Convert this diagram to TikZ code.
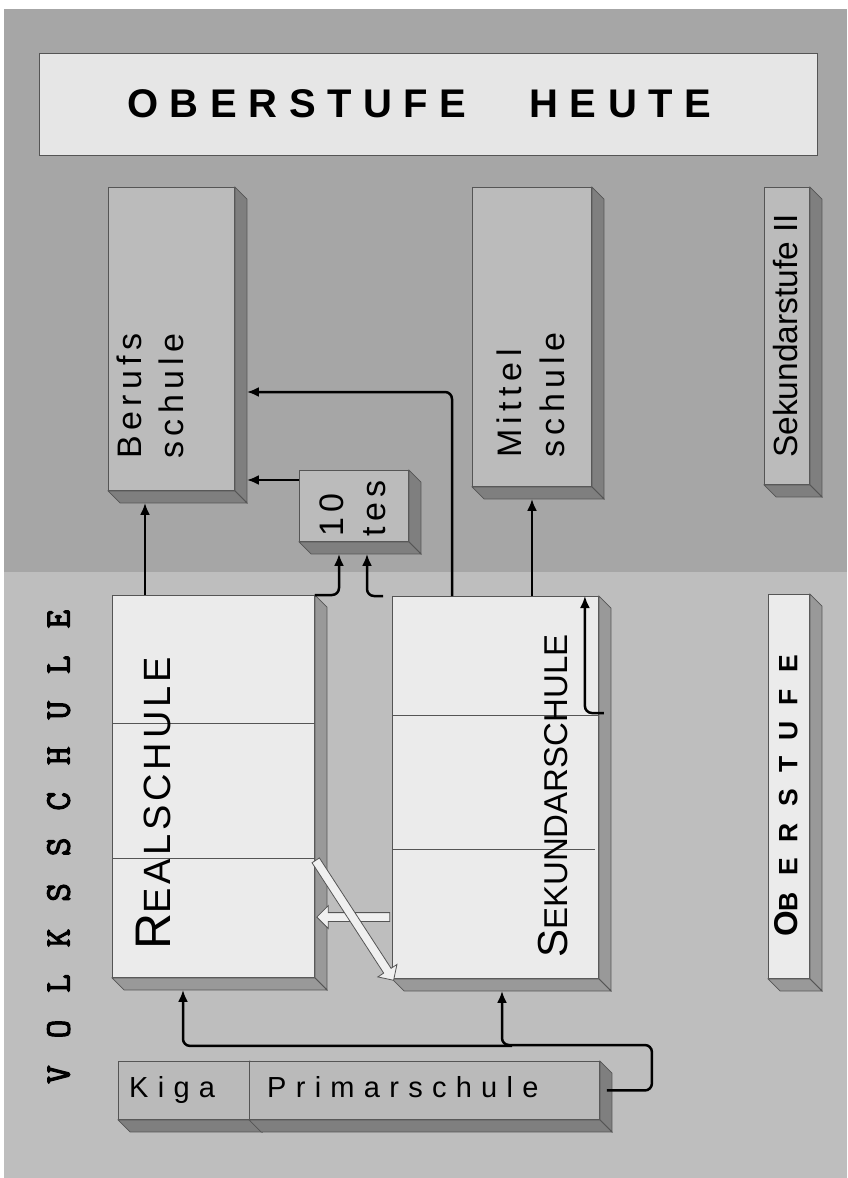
\documentclass[tikz,border=0pt]{standalone}
\usepackage{fontspec}
\setmainfont{Liberation Sans}
\newfontfamily\sperrfont[LetterSpace=16]{Liberation Sans}
\newfontfamily\weitfont[LetterSpace=32]{Liberation Sans}
\newfontfamily\titelfont[LetterSpace=29]{Liberation Sans}
\newfontfamily\oberfont[LetterSpace=61]{Liberation Sans}
\newfontfamily\realfont[LetterSpace=10]{Liberation Sans}
\newfontfamily\volksfont[LetterSpace=75,FakeBold=3]{Latin Modern Mono}
\usetikzlibrary{arrows.meta,calc,shapes.arrows}

\definecolor{hgoben}{HTML}{A6A6A6}
\definecolor{hgunten}{HTML}{BEBEBE}
\definecolor{dunkelfront}{HTML}{BBBBBB}
\definecolor{dunkelseite}{HTML}{7F7F7F}
\definecolor{hellfront}{HTML}{EBEBEB}
\definecolor{hellseite}{HTML}{999999}
\definecolor{rahmen}{HTML}{555555}

% Seiten- und Bodenflaeche eines Quaders
\newcommand{\tiefe}[2]{%
  \filldraw[draw=rahmen,line width=0.8pt,fill=#2] (#1.north east) -- ++(12,12) -- ($(#1.south east)+(12,12)$) -- (#1.south east) -- cycle;
  \filldraw[draw=rahmen,line width=0.8pt,fill=#2] (#1.south west) -- ++(12,12) -- ($(#1.south east)+(12,12)$) -- (#1.south east) -- cycle;}

\begin{document}
\begin{tikzpicture}[x=1pt,y=-1pt,
  kasten/.style={draw=rahmen,line width=0.9pt,anchor=north west,inner sep=0pt},
  dunkel/.style={kasten,fill=dunkelfront},
  hell/.style={kasten,fill=hellfront},
  hochtext/.style={rotate=90,anchor=north west,inner sep=0pt,align=left},
  pfeil/.style={-{Latex[length=12pt,width=10pt]},line width=2.5pt,rounded corners=7pt},
  weisspfeil/.style={single arrow,draw=rahmen,fill=white!94!black,line width=0.8pt,inner sep=4pt,single arrow head extend=7pt}]
\useasboundingbox (0,0) rectangle (847,1178);
\fill[white] (0,0) rectangle (847,1178);
\fill[hgoben] (4,9) rectangle (847,572);
\fill[hgunten] (4,572) rectangle (847,1178);

% Titel
\node[kasten,fill=hellfront!98!black,minimum width=778,minimum height=102] (titel) at (39,53) {};
\node[anchor=base west,inner sep=0pt,font=\titelfont\bfseries\fontsize{40}{40}\selectfont] (titeltext) at (127,117) {OBERSTUFE\hspace{40pt} HEUTE};

% Sekundarstufe II
\node[dunkel,minimum width=126,minimum height=303] (berufs) at (108,187) {};
\tiefe{berufs}{dunkelseite}
\node[dunkel,minimum width=119,minimum height=299] (mittel) at (472,187) {};
\tiefe{mittel}{dunkelseite}
\node[dunkel,minimum width=45,minimum height=297] (sekzwei) at (764,187) {};
\tiefe{sekzwei}{dunkelseite}
\node[dunkel,minimum width=109,minimum height=71] (zehn) at (299,470) {};
\tiefe{zehn}{dunkelseite}
\node[hochtext,font=\sperrfont\fontsize{34}{42}\selectfont] (berufstext) at (117,459) {Berufs\\schule};
\node[hochtext,font=\sperrfont\fontsize{34}{43}\selectfont] (mitteltext) at (497,458) {Mittel\\schule};
\node[hochtext,font=\sperrfont\fontsize{34}{42}\selectfont] (zehntext) at (320,537) {10\\tes};
\node[hochtext,font=\fontsize{33.5}{33.5}\selectfont] (sekzweitext) at (773,458) {Sekundarstufe II};

% Oberstufe
\node[hell,minimum width=202,minimum height=382] (real) at (112,595) {};
\tiefe{real}{hellseite}
\draw[rahmen,line width=0.8pt] ($(real.north west)+(0,128)$) -- ($(real.north east)+(0,128)$);
\draw[rahmen,line width=0.8pt] ($(real.north west)+(0,263)$) -- ($(real.north east)+(0,263)$);
\node[hell,minimum width=206,minimum height=382] (sek) at (392,596) {};
\tiefe{sek}{hellseite}
\draw[rahmen,line width=0.8pt] ($(sek.north west)+(0,119)$) -- ($(sek.north east)+(0,119)$);
\draw[rahmen,line width=0.8pt] ($(sek.north west)+(0,253)$) -- ($(sek.north east)+(-4,253)$);
\node[hell,minimum width=41,minimum height=384] (ober) at (768,594) {};
\tiefe{ober}{hellseite}
\node[hochtext,font=\realfont] (realtext) at (136,950) {{\fontsize{50}{50}\selectfont R}\fontsize{38}{38}\selectfont EALSCHULE};
\node[hochtext] (sektext) at (538,958) {{\fontsize{42}{42}\selectfont S}\fontsize{33}{33}\selectfont EKUNDARSCHULE};
\node[hochtext,font=\oberfont\bfseries] (obertext) at (774,937) {{\fontsize{33}{33}\selectfont O}\fontsize{26.5}{26.5}\selectfont BERSTUFE};
\node[hochtext,font=\volksfont\fontsize{36}{36}\selectfont] (volks) at (47,1084) {VOLKSSCHULE};

% Unterstufe
\node[dunkel,fill=hgunten!98!black,minimum width=131,minimum height=58] (kiga) at (118,1061) {};
\tiefe{kiga}{dunkelseite}
\node[dunkel,fill=hgunten!98!black,minimum width=350,minimum height=58] (primar) at (249,1061) {};
\tiefe{primar}{dunkelseite}
\node[anchor=base west,inner sep=0pt,font=\weitfont\fontsize{29}{29}\selectfont] (kigatext) at (129,1097) {Kiga};
\node[anchor=base west,inner sep=0pt,font=\weitfont\fontsize{29}{29}\selectfont] (primartext) at (267,1097) {Primarschule};

% Uebertritte
\draw[pfeil] ($(real.north west)+(33,0)$) -- ($(berufs.south west)+(37,12)$);
\draw[pfeil] ($(zehn.north west)+(0,10)$) -- ($(berufs.north east)+(12,293)$);
\draw[pfeil] (real.north east) -| ($(zehn.south west)+(40,12)$);
\draw[pfeil] ($(sek.north west)+(-9,0)$) -| ($(zehn.south west)+(68,12)$);
\draw[pfeil] ($(sek.north west)+(60,0)$) |- ($(berufs.north east)+(12,205)$);
\draw[pfeil] ($(sek.north west)+(140,0)$) -- ($(mittel.south west)+(60,12)$);
\draw[pfeil] ($(sek.north east)+(5,117)$) -| ($(sek.north east)+(-14,0)$);
\coordinate (knick) at ($(primar.north east)+(52,-16)$);
\draw[pfeil] ($(primar.east)+(7,0)$) -| (knick) -| ($(sek.south west)+(110,12)$);
\draw[pfeil] ($(sek.south west)+(120,67)$) -| ($(real.south west)+(71,12)$);

% Wechsel zwischen Real- und Sekundarschule
\node[weisspfeil,minimum height=73,rotate=180] (wechsel) at ($(sek.north west)+(-36.5,321)$) {};
\node[weisspfeil,minimum height=143,rotate=-57] (abstieg) at ($($(real.north east)+(0,263)$)!0.5!(sek.south west)$) {};
\end{tikzpicture}
\end{document}
